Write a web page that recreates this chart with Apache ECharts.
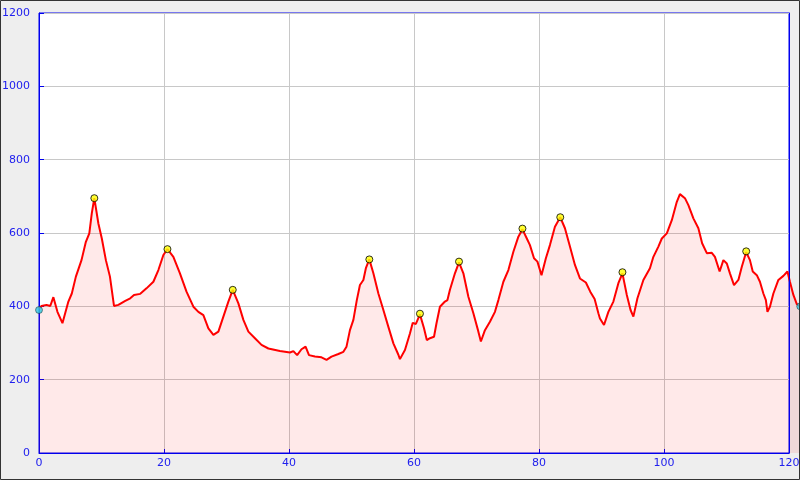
<!DOCTYPE html>
<html>
<head>
<meta charset="utf-8">
<script src="https://cdn.jsdelivr.net/npm/echarts@6/dist/echarts.min.js"></script>
<style>
html,body{margin:0;padding:0;background:#eeeeee;}
#c{width:800px;height:480px;}
</style>
</head>
<body>
<div id="c"></div>
<script>
// distance (km) and elevation (m) of the profile
const distKm = [0,0.4,1.2,1.8,2.3,2.6,2.95,3.75,4.7,5.25,5.9,6.8,7.5,8.05,8.45,8.85,9.5,10.05,10.7,11.35,12.0,12.7,13.8,14.6,15.2,16.2,17.2,18.3,19.1,19.9,20.55,21.5,22.55,23.6,24.7,25.5,26.3,27.1,27.9,28.7,29.5,30.3,31.0,31.9,32.7,33.5,34.55,35.6,36.7,38.55,40.15,40.7,41.3,42.0,42.65,43.2,44.15,45.2,46.0,46.8,47.9,48.7,49.2,49.75,50.3,50.85,51.35,51.9,52.3,52.85,53.5,54.3,55.1,55.9,56.7,57.5,57.75,58.55,59.35,59.8,60.3,60.95,61.6,62.05,62.55,63.2,63.6,64.15,64.95,65.35,65.75,66.55,67.2,67.9,68.7,69.5,70.3,70.7,71.35,72.15,72.95,73.5,74.3,75.1,75.9,76.7,77.35,78.05,78.55,79.2,79.75,80.4,81.1,81.75,82.55,83.4,84.15,84.95,85.75,86.55,87.5,88.2,88.9,89.5,89.75,90.4,91.1,91.9,92.7,93.35,94.05,94.65,95.1,95.75,96.7,97.75,98.3,99.1,99.65,100.45,101.25,102.05,102.55,103.35,103.9,104.7,105.5,106.1,106.85,107.65,108.15,108.9,109.5,110.05,110.55,111.2,111.9,112.45,113.15,113.75,114.2,114.85,115.35,115.9,116.3,116.55,116.95,117.5,118.3,119.1,119.75,120.15,120.7,121.25,121.8];
const elevM = [395,401,404,401,425,420,385,354,413,435,481,526,576,599,654,695,626,585,526,481,401,404,415,422,431,434,449,467,499,540,556,535,490,440,399,385,376,340,322,331,372,413,445,408,363,331,313,295,285,278,274,278,267,283,290,267,263,261,254,263,270,276,290,335,363,417,458,472,504,528,490,435,390,344,299,268,256,281,326,355,352,378,340,308,313,317,354,399,413,417,445,490,520,490,426,381,331,304,335,358,385,417,467,499,549,590,610,585,567,531,522,485,531,567,617,643,613,563,513,476,465,440,420,381,367,349,385,413,463,490,431,390,372,422,472,504,535,563,585,599,635,685,706,695,676,640,613,572,545,546,535,495,526,517,490,458,472,508,548,526,495,485,467,435,417,385,399,435,472,483,495,467,431,406,400];
// summit markers
const peakX = [8.85,20.55,31.0,52.85,60.95,67.2,77.35,83.4,93.35,113.15];
const peakY = [695,556,445,528,380,522,612,643,493,550];
// start / end markers
const endX = [0,121.8];
const endY = [390,400];
const xTicks = [0,20,40,60,80,100,120];
const yTicks = [0,200,400,600,800,1000,1200];

const W = 800, L = 39, R = 11, T = 13, B = 27;
const xMax = xTicks[xTicks.length-1];
const pxPerKm = (W - L - R) / xMax;
const lastX = distKm[distKm.length-1];
// overlay grid with the same scale, wide enough for the track end beyond the axis
const R2 = W - L - lastX * pxPerKm;

const blue = '#0000ee';
const lblColor = '#2020ee';
const chart = echarts.init(document.getElementById('c'), null, {renderer:'canvas'});
const line = distKm.map((d,i)=>[d,elevM[i]]);
const peaks = peakX.map((d,i)=>[d,peakY[i]]);
const ends = endX.map((d,i)=>[d,endY[i]]);
chart.setOption({
  animation:false,
  backgroundColor:'#eeeeee',
  grid:[{left:L,right:R,top:T,bottom:B,outerBoundsMode:'none',containLabel:false,
    show:true,backgroundColor:'#ffffff',borderColor:blue,borderWidth:1},
    {left:L,right:R2,top:T,bottom:B,outerBoundsMode:'none',containLabel:false,show:false}],
  xAxis:[{type:'value',gridIndex:0,min:xTicks[0],max:xMax,interval:20,
    axisLine:{show:true,lineStyle:{color:blue,width:1}},
    axisTick:{show:true,inside:true,length:4,lineStyle:{color:blue}},
    axisLabel:{color:lblColor,fontFamily:'DejaVu Sans',fontSize:11,margin:5,formatter:v=>String(v)},
    splitLine:{show:true,lineStyle:{color:'#c8c8c8',width:1}}},
    {type:'value',gridIndex:1,min:0,max:lastX,show:false}],
  yAxis:[{type:'value',gridIndex:0,min:yTicks[0],max:yTicks[yTicks.length-1],interval:200,
    axisLine:{show:true,lineStyle:{color:blue,width:1}},
    axisTick:{show:true,inside:true,length:5,lineStyle:{color:blue}},
    axisLabel:{color:lblColor,fontFamily:'DejaVu Sans',fontSize:11,margin:9,formatter:v=>String(v)},
    splitLine:{show:true,lineStyle:{color:'#c8c8c8',width:1}}},
    {type:'value',gridIndex:0,position:'right',min:0,max:1200,interval:200,z:10,
    axisLine:{show:true,lineStyle:{color:blue,width:1}},
    axisTick:{show:false},axisLabel:{show:false},splitLine:{show:false}},
    {type:'value',gridIndex:1,min:0,max:1200,show:false}],
  series:[
    {type:'line',data:line,xAxisIndex:1,yAxisIndex:2,showSymbol:false,clip:false,z:2,
     lineStyle:{color:'#ff0000',width:2},
     areaStyle:{color:'rgba(255,0,0,0.12)'}},
    {type:'scatter',data:peaks,xAxisIndex:0,yAxisIndex:0,symbol:'circle',symbolSize:7,z:5,clip:false,
     itemStyle:{color:'#ffff00',borderColor:'#000000',borderWidth:1}},
    {type:'scatter',data:ends,xAxisIndex:1,yAxisIndex:2,symbol:'circle',symbolSize:7,z:5,clip:false,
     itemStyle:{color:'#30c8e0',borderColor:'#000000',borderWidth:0.5}}
  ],
  graphic:[{type:'rect',z:100,shape:{x:0.5,y:0.5,width:799,height:479},style:{fill:'none',stroke:'#333333',lineWidth:1}}]
});
</script>
</body>
</html>
